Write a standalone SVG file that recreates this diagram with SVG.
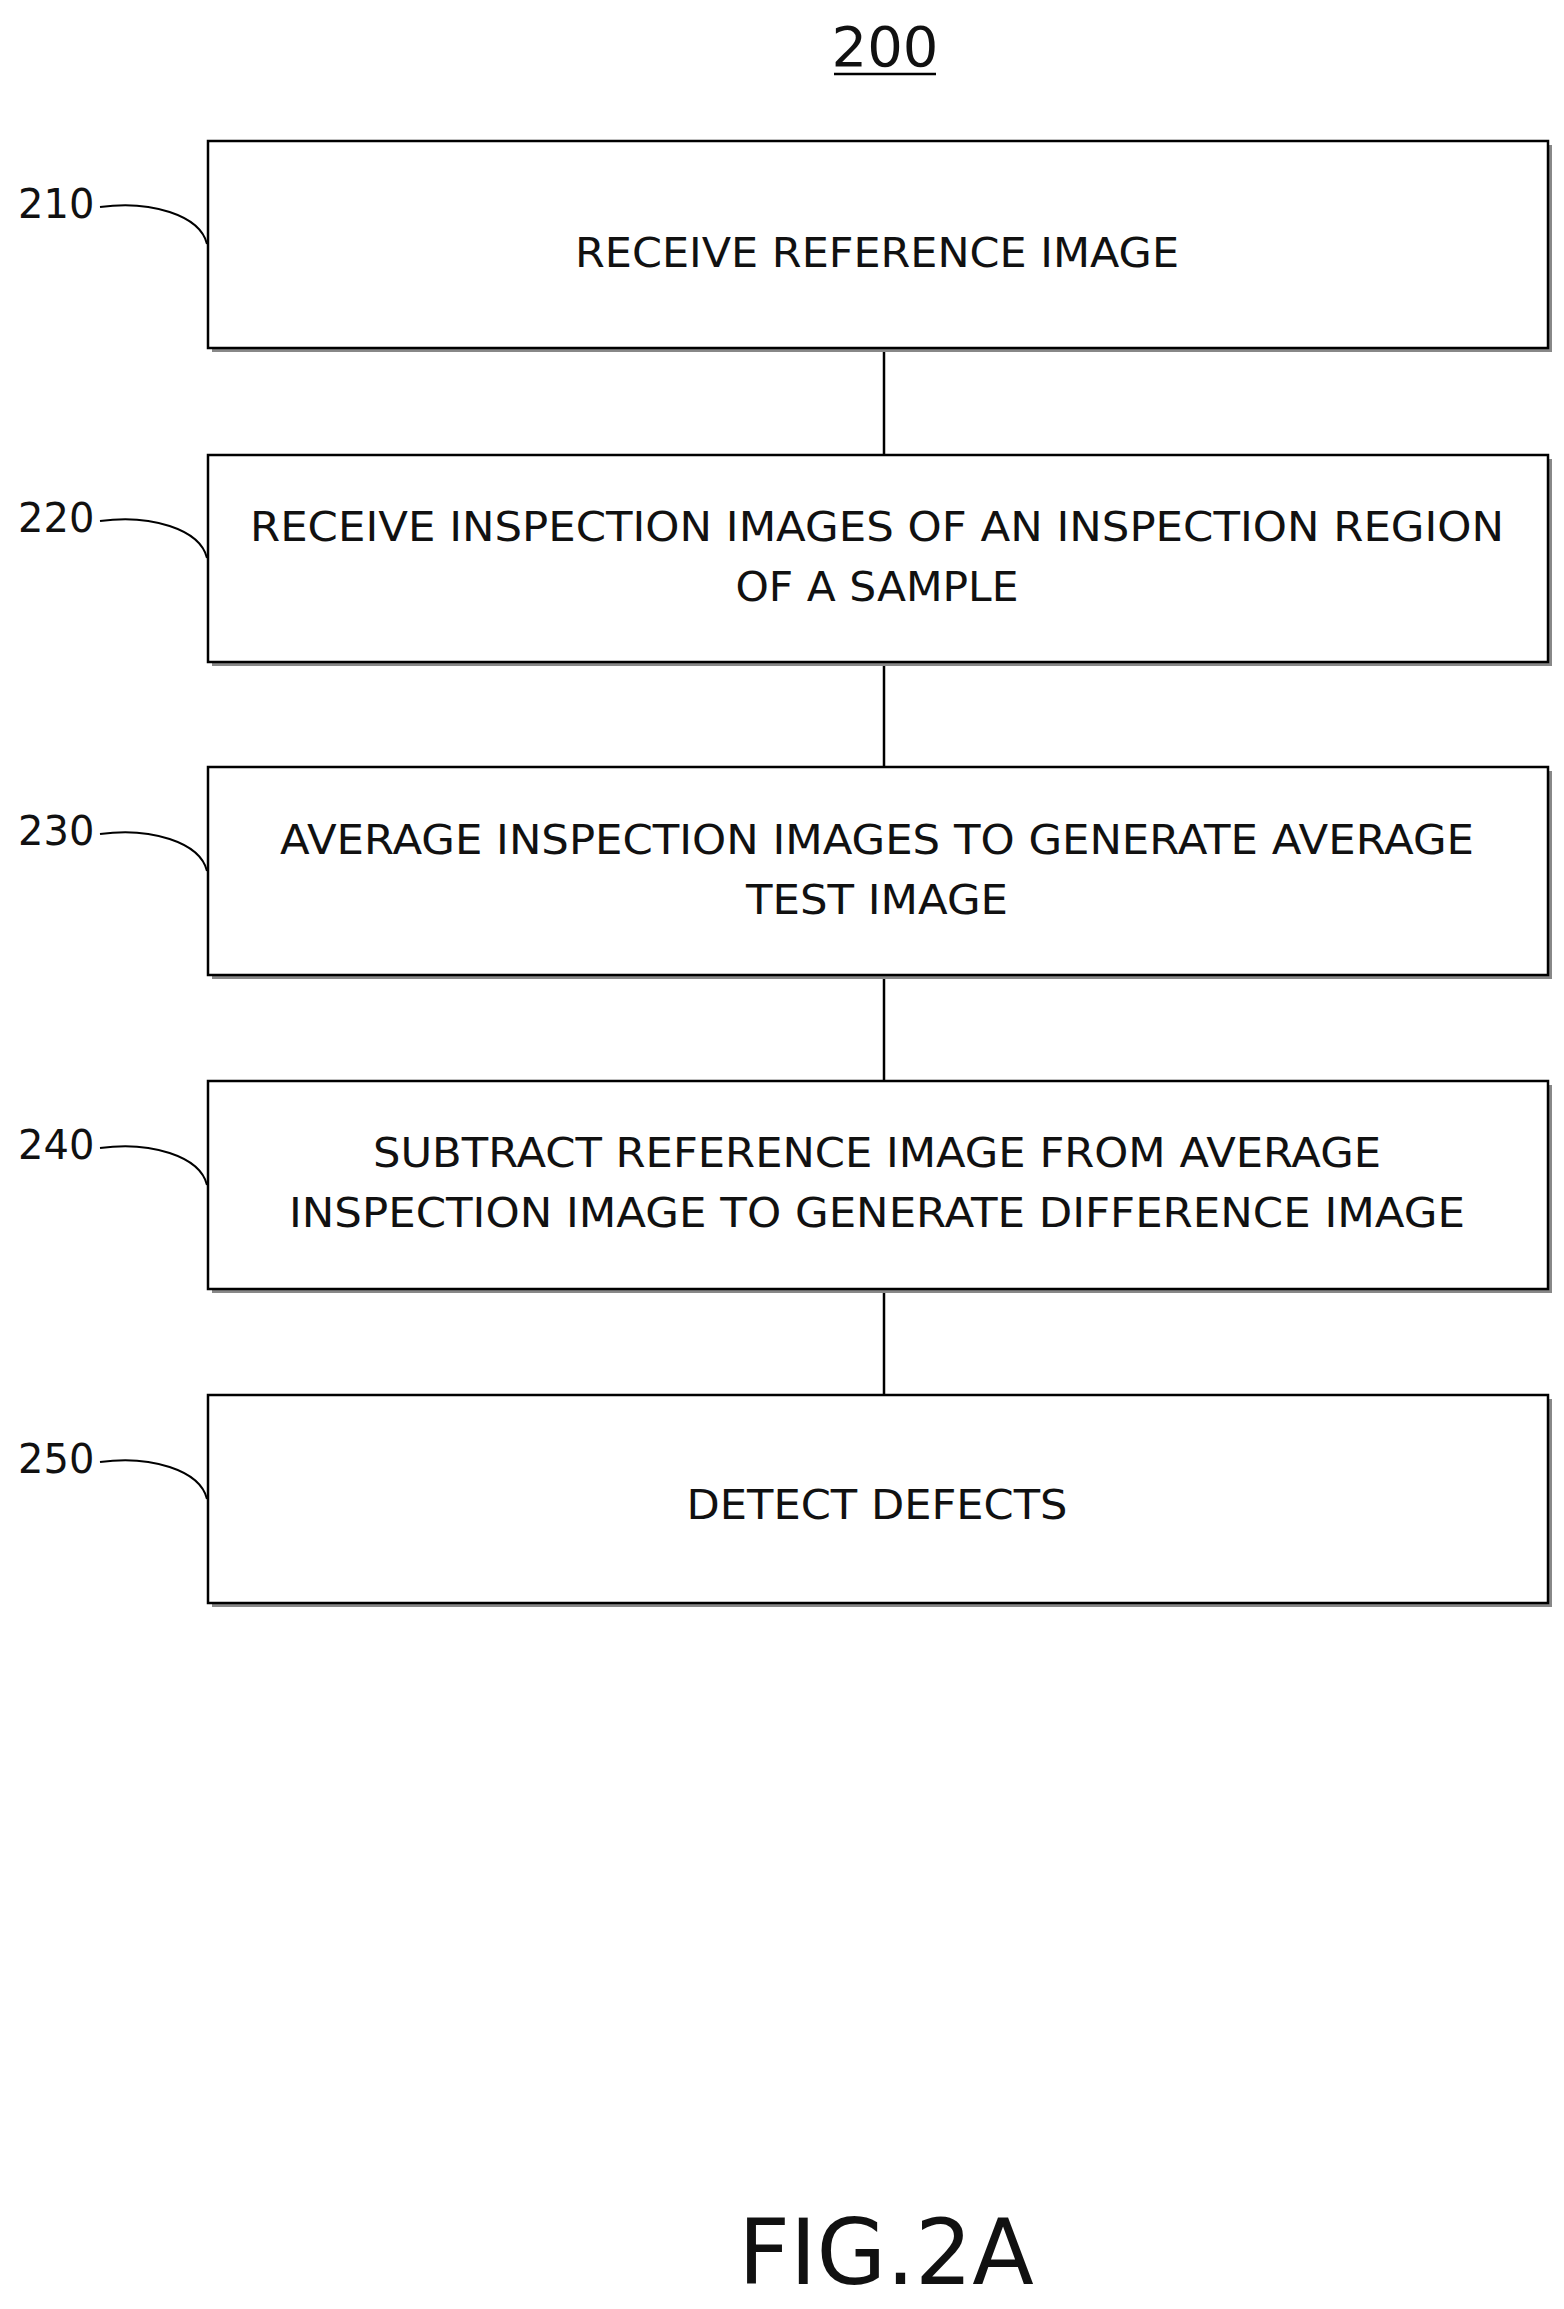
<svg xmlns="http://www.w3.org/2000/svg" width="1564" height="2309" viewBox="0 0 1564 2309">
<style>
.box{fill:#fff;stroke:#000;stroke-width:2.5}
.sh{fill:#888}
.t{font-family:"DejaVu Sans",sans-serif;font-size:41px;fill:#111;text-anchor:middle}
.lb{font-family:"DejaVu Sans",sans-serif;font-size:40px;fill:#111}
.ld{fill:none;stroke:#000;stroke-width:2}
.c{stroke:#000;stroke-width:2.5}
</style>
<rect width="1564" height="2309" fill="#fff"/>
<text x="885" y="66" class="t" style="font-size:56px">200</text>
<line x1="834" y1="74" x2="936" y2="74" class="c"/>
<g id="connectors">
<line x1="884" y1="348" x2="884" y2="455" class="c"/>
<line x1="884" y1="662" x2="884" y2="767" class="c"/>
<line x1="884" y1="975" x2="884" y2="1081" class="c"/>
<line x1="884" y1="1289" x2="884" y2="1395" class="c"/>
</g>
<g id="n210">
<rect x="212" y="145" width="1340" height="207" class="sh"/>
<rect x="208" y="141" width="1340" height="207" class="box"/>
<text x="877" y="267" class="t" textLength="604" lengthAdjust="spacingAndGlyphs">RECEIVE REFERENCE IMAGE</text>
<text x="18" y="218" class="lb">210</text>
<path d="M100 207 C150 200 200 215 207 244" class="ld"/>
</g>
<g id="n220">
<rect x="212" y="459" width="1340" height="207" class="sh"/>
<rect x="208" y="455" width="1340" height="207" class="box"/>
<text x="877" y="541" class="t" textLength="1254" lengthAdjust="spacingAndGlyphs">RECEIVE INSPECTION IMAGES OF AN INSPECTION REGION</text>
<text x="877" y="601" class="t" textLength="283" lengthAdjust="spacingAndGlyphs">OF A SAMPLE</text>
<text x="18" y="532" class="lb">220</text>
<path d="M100 521 C150 514 200 529 207 558" class="ld"/>
</g>
<g id="n230">
<rect x="212" y="771" width="1340" height="208" class="sh"/>
<rect x="208" y="767" width="1340" height="208" class="box"/>
<text x="877" y="854" class="t" textLength="1194" lengthAdjust="spacingAndGlyphs">AVERAGE INSPECTION IMAGES TO GENERATE AVERAGE</text>
<text x="877" y="914" class="t" textLength="262" lengthAdjust="spacingAndGlyphs">TEST IMAGE</text>
<text x="18" y="845" class="lb">230</text>
<path d="M100 834 C150 827 200 842 207 871" class="ld"/>
</g>
<g id="n240">
<rect x="212" y="1085" width="1340" height="208" class="sh"/>
<rect x="208" y="1081" width="1340" height="208" class="box"/>
<text x="877" y="1167" class="t" textLength="1008" lengthAdjust="spacingAndGlyphs">SUBTRACT REFERENCE IMAGE FROM AVERAGE</text>
<text x="877" y="1227" class="t" textLength="1176" lengthAdjust="spacingAndGlyphs">INSPECTION IMAGE TO GENERATE DIFFERENCE IMAGE</text>
<text x="18" y="1159" class="lb">240</text>
<path d="M100 1148 C150 1141 200 1156 207 1185" class="ld"/>
</g>
<g id="n250">
<rect x="212" y="1399" width="1340" height="208" class="sh"/>
<rect x="208" y="1395" width="1340" height="208" class="box"/>
<text x="877" y="1519" class="t" textLength="381" lengthAdjust="spacingAndGlyphs">DETECT DEFECTS</text>
<text x="18" y="1473" class="lb">250</text>
<path d="M100 1462 C150 1455 200 1470 207 1499" class="ld"/>
</g>
<text x="886" y="2284" class="t" style="font-size:90px">FIG.2A</text>
</svg>
